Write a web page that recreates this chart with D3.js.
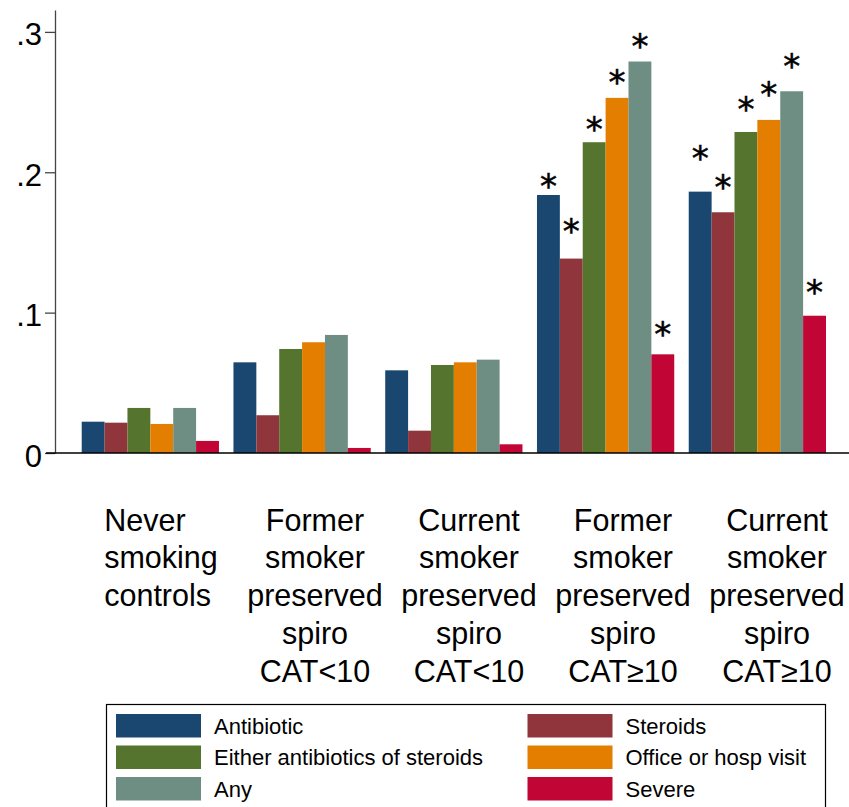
<!DOCTYPE html>
<html>
<head>
<meta charset="utf-8">
<script src="https://cdn.jsdelivr.net/npm/d3@7"></script>
<style>
  html, body { margin: 0; padding: 0; background: #fff; }
  svg { display: block; font-family: "Liberation Sans", Arial, sans-serif; }
</style>
</head>
<body>
<svg id="chart" width="849" height="807"></svg>
<script>
// Exacerbation categories (legend order)
const series = ["Antibiotic", "Steroids", "Either antibiotics of steroids",
                "Office or hosp visit", "Any", "Severe"];
const colors = ["#1a476f", "#90353b", "#55752f", "#e37e00", "#6e8e84", "#c10534"];

// Study groups, each label split into lines
const groups = ["never", "formerLow", "currentLow", "formerHigh", "currentHigh"];
const groupLabels = [
  ["Never", "smoking", "controls"],
  ["Former", "smoker", "preserved", "spiro", "CAT<10"],
  ["Current", "smoker", "preserved", "spiro", "CAT<10"],
  ["Former", "smoker", "preserved", "spiro", "CAT≥10"],
  ["Current", "smoker", "preserved", "spiro", "CAT≥10"]
];
const labelAlign = ["start", "middle", "middle", "middle", "middle"];

// Rates per group, one array per series
const antibiotic = [0.0223, 0.0646, 0.0589, 0.1838, 0.1862];
const steroids   = [0.0216, 0.0269, 0.0159, 0.1385, 0.1715];
const either     = [0.0321, 0.0741, 0.0627, 0.2214, 0.2287];
const office     = [0.0207, 0.0789, 0.0646, 0.2530, 0.2373];
const anyExac    = [0.0321, 0.0841, 0.0665, 0.2789, 0.2577];
const severe     = [0.0086, 0.0036, 0.0062, 0.0703, 0.0978];
const values = [antibiotic, steroids, either, office, anyExac, severe];

// Significance markers: height of each "*" (null = not significant)
const starAntibiotic = [null, null, null, 0.1933, 0.2131];
const starSteroids   = [null, null, null, 0.1610, 0.1924];
const starEither     = [null, null, null, 0.2337, 0.2480];
const starOffice     = [null, null, null, 0.2672, 0.2587];
const starAny        = [null, null, null, 0.2931, 0.2788];
const starSevere     = [null, null, null, 0.0876, 0.1176];
const stars = [starAntibiotic, starSteroids, starEither, starOffice, starAny, starSevere];

const yTicks = [0, 0.1, 0.2, 0.3];

const svg = d3.select("#chart");

const y = d3.scaleLinear().domain([0, 0.3156]).range([453, 10]);
const x0 = d3.scaleBand().domain(groups).range([74.45, 833.25])
  .paddingInner(0.0955).paddingOuter(0.0478);
const x1 = d3.scaleBand().domain(series).range([0, x0.bandwidth()]);
const xLabel = d3.scalePoint().domain(groups).range([161, 777]);

// Bars
const rows = [];
groups.forEach((g, gi) => series.forEach((s, si) => {
  rows.push({ g, s, si, v: values[si][gi], star: stars[si][gi] });
}));

svg.append("g").selectAll("rect").data(rows).join("rect")
  .attr("x", d => x0(d.g) + x1(d.s))
  .attr("y", d => y(d.v))
  .attr("width", x1.bandwidth())
  .attr("height", d => y(0) - y(d.v))
  .attr("fill", d => colors[d.si]);

// Asterisks: the glyph's centre sits roughly half an em above the baseline
const starSize = 34;
svg.append("g").selectAll("text").data(rows.filter(d => d.star != null)).join("text")
  .attr("x", d => x0(d.g) + x1(d.s) + x1.bandwidth() / 2)
  .attr("y", d => y(d.star) + starSize * 0.48)
  .attr("text-anchor", "middle")
  .attr("font-family", "DejaVu Sans, sans-serif")
  .attr("font-size", starSize)
  .attr("stroke", "#000").attr("stroke-width", 0.5)
  .attr("fill", "#000")
  .text("*");

// Y axis
const yAxis = svg.append("g").attr("transform", "translate(55,0)")
  .call(d3.axisLeft(y).tickValues(yTicks).tickSize(10).tickSizeOuter(0)
    .tickFormat(d => d === 0 ? "0" : d3.format(".1f")(d).replace(/^0/, "")));
yAxis.select(".domain").attr("stroke", "#444").attr("stroke-width", 1.3);
yAxis.selectAll(".tick line").attr("stroke", "#444").attr("stroke-width", 1.3);
yAxis.selectAll(".tick text")
  .attr("font-size", 31).attr("font-family", "Liberation Sans, Arial, sans-serif")
  .attr("fill", "#000").attr("x", -13).attr("dy", "0.42em");

// Baseline
svg.append("line")
  .attr("x1", 46).attr("x2", 849).attr("y1", y(0)).attr("y2", y(0))
  .attr("stroke", "#000").attr("stroke-width", 1.6);

// Group labels
const lineH = 37.8;
groups.forEach((g, gi) => {
  const lines = groupLabels[gi];
  const t = svg.append("text")
    .attr("font-size", 30.5).attr("fill", "#000");
  lines.forEach((ln, li) => {
    t.append("tspan").attr("y", 530.5 + li * lineH).text(ln);
  });
  if (labelAlign[gi] === "middle") {
    t.attr("text-anchor", "middle").selectAll("tspan").attr("x", xLabel(g));
  } else {
    let w = 0;
    t.selectAll("tspan").each(function () { w = Math.max(w, this.getComputedTextLength()); });
    t.attr("text-anchor", "start").selectAll("tspan").attr("x", xLabel(g) - w / 2);
  }
});

// Legend
const legend = svg.append("g");
legend.append("rect")
  .attr("x", 106.5).attr("y", 704.5).attr("width", 719).attr("height", 120)
  .attr("fill", "none").attr("stroke", "#000").attr("stroke-width", 1.2);
const legCols = [116, 527.5];
const legRows = [714, 745.5, 777];
series.forEach((s, i) => {
  const col = i % 2, row = Math.floor(i / 2);
  const lx = legCols[col], ly = legRows[row];
  legend.append("rect").attr("x", lx).attr("y", ly).attr("width", 85).attr("height", 23.5)
    .attr("fill", colors[i]);
  legend.append("text").attr("x", lx + 98).attr("y", ly + 19.5)
    .attr("font-size", 22).attr("fill", "#000").text(s);
});
</script>
</body>
</html>
